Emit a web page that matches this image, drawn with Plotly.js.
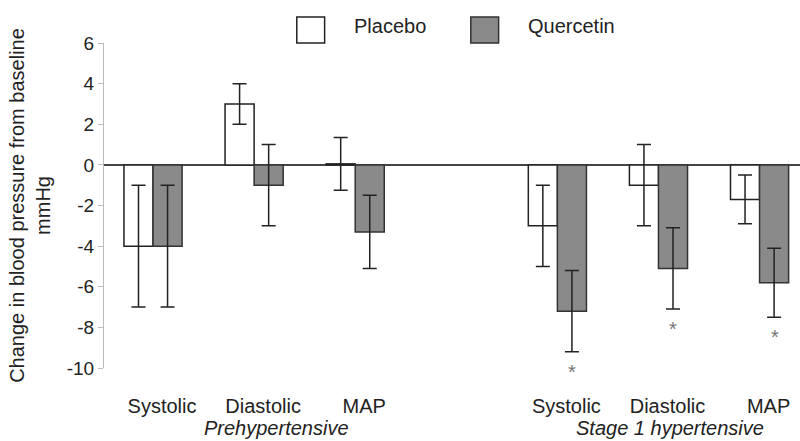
<!DOCTYPE html>
<html>
<head>
<meta charset="utf-8">
<script src="https://cdn.plot.ly/plotly-3.0.1.min.js"></script>
<style>
html,body{margin:0;padding:0;background:#fff;}
#chart{width:800px;height:441px;}
</style>
</head>
<body>
<div id="chart"></div>
<script>
// ---- data ----
var groups = ['Prehypertensive', 'Stage 1 hypertensive'];
var measures = ['Systolic', 'Diastolic', 'MAP'];
var placeboValues = [-4, 3, 0.05, -3, -1, -1.7];
var placeboErrors = [3, 1, 1.3, 2, 2, 1.2];
var quercetinValues = [-4, -1, -3.3, -7.2, -5.1, -5.8];
var quercetinErrors = [3, 2, 1.8, 2, 2, 1.7];
var significant = [false, false, false, true, true, true];
var yTickValues = [-10, -8, -6, -4, -2, 0, 2, 4, 6];
var yTickLabels = ['-10', '-8', '-6', '-4', '-2', '0', '2', '4', '6'];

// category positions: one empty slot between the two groups
var xPos = [], xLabels = [];
groups.forEach(function (g, gi) {
  measures.forEach(function (m, mi) {
    xPos.push(gi * (measures.length + 1) + mi);
    xLabels.push(m);
  });
});

var FONT = 'Liberation Sans, Arial, sans-serif';
var TXT = '#222';
var FS = 20;

var traces = [
  {
    type: 'bar', name: 'Placebo', x: xPos, y: placeboValues,
    marker: {color: '#ffffff', line: {color: '#222', width: 1.5}},
    error_y: {type: 'data', array: placeboErrors, visible: true, color: '#222', thickness: 1.5, width: 7},
    hoverinfo: 'y'
  },
  {
    type: 'bar', name: 'Quercetin', x: xPos, y: quercetinValues,
    marker: {color: '#8a8a8a', line: {color: '#333', width: 1.5}},
    error_y: {type: 'data', array: quercetinErrors, visible: true, color: '#222', thickness: 1.5, width: 7},
    hoverinfo: 'y'
  }
];

var annotations = [];
// significance asterisks under the quercetin error bars
xPos.forEach(function (x, i) {
  if (significant[i]) {
    annotations.push({
      x: x, y: quercetinValues[i] - quercetinErrors[i],
      xref: 'x', yref: 'y', yanchor: 'middle', text: '*', showarrow: false,
      xshift: 15, yshift: -20,
      font: {family: FONT, size: FS, color: '#777'}
    });
  }
});
// group labels
var groupShift = [22, 12];
groups.forEach(function (g, gi) {
  annotations.push({
    x: gi * (measures.length + 1) + 1, y: 0, xref: 'x', yref: 'paper',
    yanchor: 'middle', yshift: -60, xshift: groupShift[gi],
    text: '<i>' + g + '</i>', showarrow: false,
    font: {family: FONT, size: FS, color: TXT}
  });
});
// legend (drawn manually with large swatches)
var legendItems = [
  {name: 'Placebo', fill: '#ffffff', line: '#222', x0: 0.277},
  {name: 'Quercetin', fill: '#8a8a8a', line: '#333', x0: 0.527}
];
var shapes = [];
legendItems.forEach(function (it) {
  shapes.push({
    type: 'rect', xref: 'paper', yref: 'paper',
    x0: it.x0, x1: it.x0 + 0.04, y0: 1.0, y1: 1.08,
    fillcolor: it.fill, line: {color: it.line, width: 1.5}
  });
  annotations.push({
    x: it.x0 + 0.08, y: 1.052, xref: 'paper', yref: 'paper',
    xanchor: 'left', yanchor: 'middle', text: it.name, showarrow: false,
    font: {family: FONT, size: FS, color: TXT}
  });
});

var layout = {
  width: 800, height: 441,
  margin: {l: 104, r: 0, t: 43, b: 73},
  paper_bgcolor: '#fff', plot_bgcolor: '#fff',
  showlegend: false,
  barmode: 'group', bargap: 0.425, bargroupgap: 0,
  font: {family: FONT, size: FS, color: TXT},
  xaxis: {
    range: [-0.485, 6.4],
    tickvals: xPos, ticktext: xLabels,
    showgrid: false, zeroline: false, showline: false,
    ticks: 'outside', ticklen: 20, tickcolor: 'rgba(0,0,0,0)',
    ticklabelshift: 9,
    tickfont: {family: FONT, size: FS, color: TXT},
    fixedrange: true
  },
  yaxis: {
    range: [-10, 6],
    tickvals: yTickValues, ticktext: yTickLabels,
    showgrid: false,
    zeroline: true, zerolinecolor: '#444', zerolinewidth: 1.5,
    showline: true, linecolor: '#bbb', linewidth: 1,
    ticks: 'outside', ticklen: 5, tickcolor: '#bbb',
    tickfont: {family: FONT, size: 19, color: TXT},
    automargin: true,
    title: {text: 'Change in blood pressure from baseline<br>mmHg', standoff: 10,
            font: {family: FONT, size: FS, color: TXT}},
    fixedrange: true
  },
  shapes: shapes,
  annotations: annotations
};

Plotly.newPlot('chart', traces, layout, {displayModeBar: false, staticPlot: true});
</script>
</body>
</html>
